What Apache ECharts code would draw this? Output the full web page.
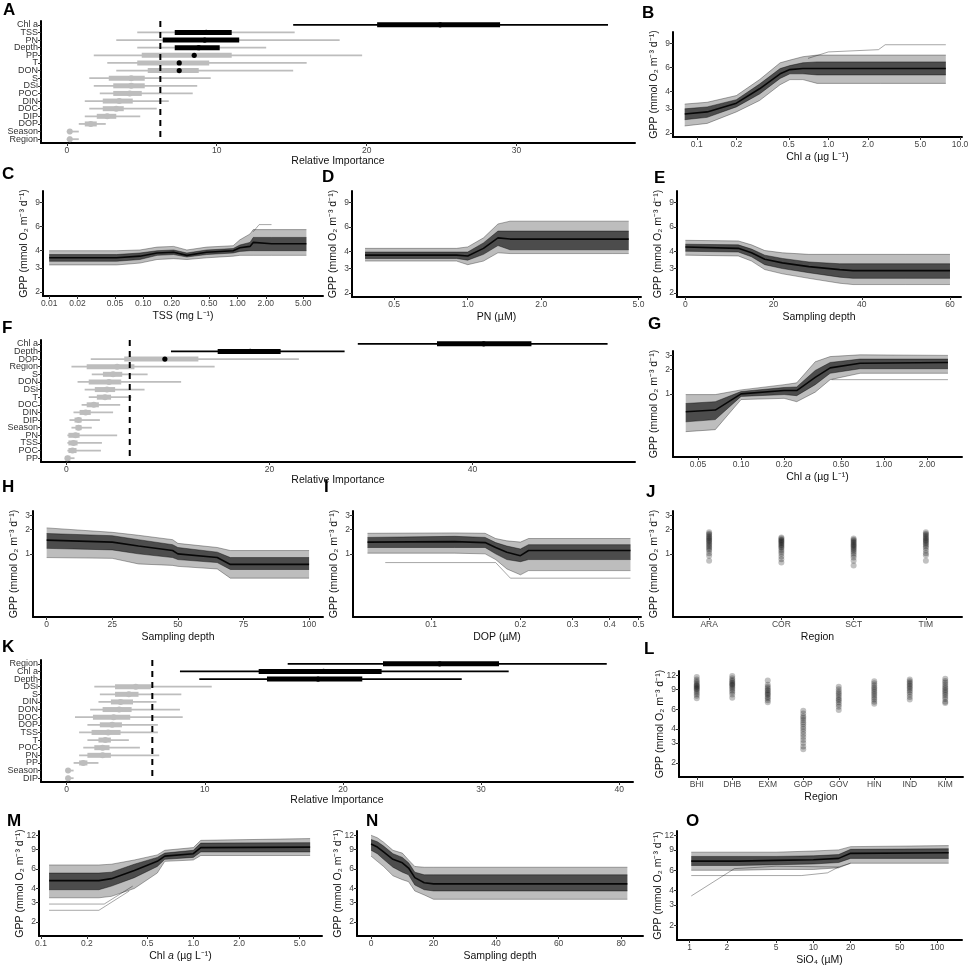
<!DOCTYPE html>
<html>
<head>
<meta charset="utf-8">
<script src="https://cdn.jsdelivr.net/npm/echarts@6/dist/echarts.min.js"></script>
<style>
html,body{margin:0;padding:0;background:#fff}
#main{width:970px;height:970px}
</style>
</head>
<body>
<div id="main"></div>
<script>
// ---- relative importance panels (A, F, K) ----
var aVars = ['Chl a','TSS','PN','Depth','PP','T','DON','S','DSi','POC','DIN','DOC','DIP','DOP','Season','Region'];
var aLo  = [15.1,4.7,3.3,4.7,1.8,2.7,3.3,1.5,1.8,2.2,1.2,1.5,1.2,0.8,0.0,0.0];
var aQ1  = [20.7,7.2,6.4,7.2,5.0,4.7,5.4,2.8,3.1,3.1,2.4,2.4,2.0,1.2,0.1,0.1];
var aMed = [24.9,9.3,9.2,8.8,8.5,7.5,7.5,4.3,4.3,4.2,3.5,3.3,2.7,1.6,0.2,0.2];
var aQ3  = [28.9,11.0,11.5,10.2,11.0,9.5,8.8,5.2,5.2,5.0,4.4,3.8,3.3,2.0,0.3,0.3];
var aHi  = [36.1,15.2,18.2,13.3,19.7,16.0,15.1,9.6,8.7,8.4,6.8,6.0,4.9,2.6,0.8,0.8];
var aCut = 6.24;

var fVars = ['Chl a','Depth','DOP','Region','S','DON','DSi','T','DOC','DIN','DIP','Season','PN','TSS','POC','PP'];
var fLo  = [28.7,10.3,2.4,0.5,2.5,1.1,1.8,2.2,1.5,0.7,0.3,0.5,0.1,0.1,0.1,0.0];
var fQ1  = [36.5,14.9,5.7,2.0,3.6,2.2,2.8,3.0,2.0,1.3,0.8,0.9,0.2,0.2,0.2,0.05];
var fMed = [41.1,18.1,9.7,5.0,4.6,4.2,4.0,3.8,2.7,1.9,1.2,1.2,0.9,0.7,0.6,0.1];
var fQ3  = [45.8,21.1,13.0,6.7,5.5,5.4,4.8,4.4,3.2,2.4,1.5,1.5,1.3,1.1,1.0,0.4];
var fHi  = [53.3,27.4,22.9,14.6,8.0,11.3,7.7,6.4,5.3,4.6,3.3,2.5,5.0,3.5,3.4,0.8];
var fCut = 6.24;

var kVars = ['Region','Chl a','Depth','DSi','S','DIN','DON','DOC','DOP','TSS','T','POC','PN','PP','Season','DIP'];
var kLo  = [16.0,8.2,9.6,2.0,2.4,2.3,1.7,0.6,1.5,0.9,1.5,1.2,0.9,0.5,0.0,0.0];
var kQ1  = [22.9,13.9,14.5,3.5,3.5,3.2,2.6,1.9,2.4,1.8,2.3,2.0,1.5,0.9,0.05,0.05];
var kMed = [27.0,18.6,18.2,5.0,4.5,3.9,3.8,3.4,3.3,3.0,2.8,2.6,2.6,1.2,0.1,0.1];
var kQ3  = [31.3,22.8,21.4,6.1,5.2,4.8,4.7,4.6,4.0,3.9,3.2,3.1,3.2,1.5,0.2,0.2];
var kHi  = [39.1,32.0,28.6,10.5,8.3,6.5,8.2,8.4,6.6,6.6,4.5,5.3,6.7,2.3,0.5,0.5];
var kCut = 6.2;

// ---- partial dependence envelopes (x, outer low, inner low, middle, inner high, outer high) ----
var bX   = [0.081,0.12,0.2,0.3,0.43,0.51,0.64,0.82,2.5,7.8];
var bLo  = [2.25,2.35,2.85,3.45,4.5,4.9,4.9,4.6,4.6,4.6];
var bQ1  = [2.5,2.6,3.1,3.85,5.0,5.4,5.4,5.3,5.3,5.3];
var bMid = [2.75,2.85,3.3,4.2,5.4,5.8,5.9,5.9,5.9,5.9];
var bQ3  = [3.0,3.1,3.5,4.55,5.9,6.2,6.5,6.6,6.6,6.6];
var bHi  = [3.25,3.35,3.75,4.9,6.5,6.8,7.2,7.4,7.4,7.4];
var bTop = [[0.7,7.0],[1.0,7.8],[2.4,8.1],[2.7,8.8],[7.8,8.8]];

var cX   = [0.01,0.052,0.092,0.14,0.21,0.29,0.47,0.9,1.06,1.36,1.47,2.3,5.4];
var cLo  = [3.15,3.15,3.25,3.45,3.5,3.45,3.55,3.65,3.7,3.7,3.7,3.7,3.7];
var cQ1  = [3.35,3.35,3.45,3.7,3.75,3.6,3.75,3.85,3.95,4.0,4.0,4.0,4.0];
var cMid = [3.55,3.55,3.65,3.85,3.9,3.7,3.9,4.0,4.2,4.3,4.6,4.5,4.5];
var cQ3  = [3.75,3.75,3.85,4.0,4.05,3.85,4.05,4.15,4.4,4.6,5.0,5.0,5.0];
var cHi  = [4.0,4.0,4.05,4.25,4.3,4.05,4.25,4.35,4.8,5.3,5.7,5.7,5.7];
var cTop = [[1.47,5.5],[1.7,6.2],[2.3,6.2]];

var dX   = [0.38,0.9,1.0,1.16,1.33,1.49,3.9,4.56];
var dLo  = [3.4,3.4,3.2,3.4,3.9,3.85,3.85,3.85];
var dQ1  = [3.55,3.55,3.45,3.8,4.4,4.1,4.1,4.1];
var dMid = [3.75,3.75,3.7,4.2,5.0,4.9,4.9,4.9];
var dQ3  = [3.95,3.95,3.95,4.6,5.6,5.6,5.6,5.6];
var dHi  = [4.2,4.2,4.3,5.0,6.3,6.6,6.6,6.6];

var eX   = [0,12,15,18,22,28,35,38,50,60];
var eLo  = [3.75,3.7,3.4,2.95,2.75,2.55,2.35,2.3,2.3,2.3];
var eQ1  = [4.0,3.95,3.65,3.2,3.0,2.8,2.6,2.55,2.55,2.55];
var eMid = [4.3,4.2,3.9,3.5,3.3,3.1,2.95,2.9,2.9,2.9];
var eQ3  = [4.5,4.45,4.15,3.75,3.55,3.35,3.25,3.25,3.25,3.25];
var eHi  = [4.8,4.75,4.45,4.05,3.9,3.8,3.8,3.8,3.8,3.8];

var gX   = [0.041,0.066,0.1,0.2,0.245,0.33,0.42,0.68,2.8];
var gLo  = [0.34,0.36,0.85,0.88,0.8,1.05,1.5,1.8,1.8];
var gQ1  = [0.45,0.48,0.93,0.98,0.95,1.3,1.8,2.05,2.05];
var gMid = [0.6,0.63,1.0,1.1,1.1,1.6,2.1,2.4,2.45];
var gQ3  = [0.76,0.8,1.07,1.2,1.22,1.95,2.45,2.7,2.7];
var gHi  = [0.98,0.98,1.12,1.3,1.37,2.5,2.9,3.05,3.0];
var gLow = [[0.43,1.5],[2.8,1.5]];

var hX   = [0,25,35,48,50,65,70,100];
var hLo  = [0.9,0.88,0.75,0.72,0.7,0.65,0.5,0.5];
var hQ1  = [1.17,1.12,1.0,0.9,0.85,0.78,0.64,0.64];
var hMid = [1.48,1.4,1.25,1.1,1.0,0.9,0.74,0.74];
var hQ3  = [1.79,1.68,1.5,1.3,1.2,1.05,0.9,0.9];
var hHi  = [2.1,1.85,1.7,1.5,1.35,1.2,1.1,1.1];

var iX   = [0.061,0.12,0.152,0.165,0.18,0.2,0.213,0.47];
var iLo  = [1.02,1.02,1.0,0.85,0.65,0.55,0.62,0.62];
var iQ1  = [1.2,1.2,1.2,1.0,0.85,0.8,0.85,0.85];
var iMid = [1.4,1.42,1.38,1.2,1.05,0.95,1.1,1.1];
var iQ3  = [1.6,1.65,1.6,1.38,1.25,1.15,1.3,1.3];
var iHi  = [1.8,1.82,1.8,1.55,1.45,1.4,1.55,1.55];
var iLow = [[0.07,0.78],[0.165,0.78],[0.185,0.5],[0.47,0.5]];

var mX   = [0.113,0.24,0.29,0.41,0.58,0.65,1.0,1.12,5.85];
var mLo  = [3.3,3.3,3.4,4.0,5.5,7.0,7.2,7.9,7.9];
var mQ1  = [3.9,3.9,4.2,5.0,6.3,7.3,7.6,8.5,8.5];
var mMid = [4.7,4.7,4.9,5.8,7.0,7.8,8.2,9.3,9.4];
var mQ3  = [5.5,5.5,5.6,6.6,7.6,8.3,8.8,10.2,10.3];
var mHi  = [6.5,6.5,6.6,7.2,8.0,8.8,9.3,10.8,11.2];
var mLowA = [[0.113,2.9],[0.26,2.9],[0.4,4.2]];
var mLowB = [[0.113,2.55],[0.24,2.55],[0.38,3.8]];

var nX   = [0,2,4,7,10,12,14,17,20,62,82];
var nLo  = [7.8,7.0,6.3,5.2,4.8,4.6,3.8,3.5,3.2,3.2,3.2];
var nQ1  = [8.8,8.2,7.3,6.2,5.6,5.3,4.3,3.9,3.8,3.8,3.8];
var nMid = [10.0,9.4,8.5,7.3,6.8,6.1,5.0,4.5,4.4,4.4,4.4];
var nQ3  = [11.0,10.5,9.6,8.2,7.6,6.8,5.6,5.3,5.3,5.3,5.3];
var nHi  = [12.0,11.4,10.4,8.8,8.3,7.2,6.3,6.2,6.2,6.2,6.2];

var oX   = [1.03,2.5,5,10,16,20,124];
var oLo  = [6.0,6.0,6.1,6.1,6.3,6.9,6.9];
var oQ1  = [6.6,6.6,6.7,6.8,7.0,7.6,7.6];
var oMid = [7.2,7.2,7.3,7.4,7.6,8.4,8.5];
var oQ3  = [7.9,7.9,7.9,8.0,8.2,9.1,9.2];
var oHi  = [8.6,8.6,8.6,8.8,9.0,9.6,9.8];
var oLowA = [[1.03,3.6],[2.3,6.2],[5,6.5],[16,6.4]];
var oLowB = [[1.03,5.4],[8,5.4],[13,5.7],[16,6.4],[20,6.9]];

// ---- region strips (J, L) ----
var jCats = ['ARA','COR','SCT','TIM'];
var jARA = [1.85,1.78,1.72,1.65,1.6,1.55,1.5,1.45,1.4,1.35,1.3,1.25,1.2,1.15,1.1,1.02,0.95,0.82];
var jCOR = [1.6,1.55,1.5,1.46,1.42,1.38,1.34,1.3,1.26,1.22,1.18,1.12,1.06,1.0,0.93,0.86,0.78];
var jSCT = [1.55,1.5,1.45,1.4,1.36,1.32,1.28,1.24,1.2,1.16,1.12,1.07,1.02,0.96,0.9,0.82,0.72];
var jTIM = [1.85,1.78,1.72,1.66,1.6,1.55,1.5,1.45,1.4,1.35,1.3,1.24,1.18,1.1,1.02,0.96,0.82];

var lCats = ['BHI','DHB','EXM','GOP','GOV','HIN','IND','KIM'];
var lBHI = [11.6,11.0,10.6,10.3,10.0,9.8,9.6,9.4,9.2,9.0,8.8,8.5,8.2,7.9,7.5];
var lDHB = [11.8,11.3,10.9,10.6,10.3,10.1,9.9,9.7,9.4,9.1,8.8,8.5,8.1,7.6];
var lEXM = [10.8,9.9,9.5,9.2,8.9,8.7,8.4,8.2,8.0,7.7,7.5,7.2,6.9];
var lGOP = [5.8,5.5,5.2,5.0,4.8,4.6,4.4,4.2,4.0,3.8,3.6,3.4,3.2,3.0,2.8,2.65];
var lGOV = [9.5,9.0,8.6,8.3,8.0,7.7,7.4,7.2,6.9,6.6,6.3,5.9];
var lHIN = [10.6,10.2,9.8,9.4,9.1,8.8,8.5,8.2,7.9,7.6,7.3,7.0,6.7];
var lIND = [11.0,10.6,10.3,10.0,9.7,9.4,9.1,8.8,8.5,8.1,7.7,7.3];
var lKIM = [11.2,10.7,10.3,9.9,9.5,9.2,8.9,8.6,8.3,8.0,7.7,7.4,7.0,6.8];

// ---- tick values ----
var gppTicksA = [2,3,4,6,9];
var gppTicksB = [1,2,3];
var gppTicksC = [2,3,4,6,9,12];
var bTicks = [0.1,0.2,0.5,1,2,5,10];
var bLabels = ['0.1','0.2','0.5','1.0','2.0','5.0','10.0'];
var cTicks = [0.01,0.02,0.05,0.1,0.2,0.5,1,2,5];
var cLabels = ['0.01','0.02','0.05','0.10','0.20','0.50','1.00','2.00','5.00'];
var dTicks = [0.5,1,2,5];
var dLabels = ['0.5','1.0','2.0','5.0'];
var eTicks = [0,20,40,60];
var gTicks = [0.05,0.1,0.2,0.5,1,2];
var gLabels = ['0.05','0.10','0.20','0.50','1.00','2.00'];
var hTicks = [0,25,50,75,100];
var iTicks = [0.1,0.2,0.3,0.4,0.5];
var mTicks = [0.1,0.2,0.5,1,2,5];
var mLabels = ['0.1','0.2','0.5','1.0','2.0','5.0'];
var nTicks = [0,20,40,60,80];
var oTicks = [1,2,5,10,20,50,100];
var aTicks = [0,10,20,30];
var fTicks = [0,20,40];
var kTicks = [0,10,20,30,40];

// ---- drawing ----
var FONT = '"Liberation Sans", Arial, sans-serif';
var GPP = 'GPP (mmol O₂ m⁻³ d⁻¹)';
var CHL = '{n|Chl }{i|a}{n| (µg L⁻¹)}';
var RICH = {
  n: {fontFamily: FONT, fontSize: 10.5, color: '#111'},
  i: {fontFamily: FONT, fontSize: 10.5, fontStyle: 'italic', color: '#111'}
};
function lg(v) { return Math.log10(v); }
function idt(v) { return v; }

var grids = [], xAxes = [], yAxes = [], series = [], graphics = [];

function addGrid(box) {
  grids.push({left: box[0], top: box[1], width: box[2], height: box[3],
    containLabel: false, outerBoundsMode: 'none'});
  return grids.length - 1;
}

function tickAxis(g, dir, tf, range, ticks, labels, name, gap) {
  var tv = ticks.map(tf);
  var lab = labels || ticks.map(String);
  return {
    type: 'value', gridIndex: g, min: tf(range[0]), max: tf(range[1]),
    name: name, nameLocation: 'middle', nameGap: gap, nameRotate: dir === 'y' ? 90 : 0,
    nameMoveOverlap: false,
    nameTextStyle: {fontFamily: FONT, fontSize: 10.5, color: '#111', rich: RICH},
    axisLine: {show: true, onZero: false, lineStyle: {color: '#000', width: 2}},
    axisTick: {show: true, customValues: tv, length: 3, lineStyle: {color: '#333', width: 1}},
    axisLabel: {customValues: tv, fontFamily: FONT, fontSize: 8.5, color: '#444', margin: 3,
      formatter: function (v) {
        for (var i = 0; i < tv.length; i++) { if (Math.abs(tv[i] - v) < 1e-6) return lab[i]; }
        return '';
      }},
    splitLine: {show: false}
  };
}

function lineS(g, pts, color, width) {
  return {type: 'line', xAxisIndex: g, yAxisIndex: g, data: pts, symbol: 'none',
    silent: true, z: 3, lineStyle: {color: color, width: width}};
}

function band(g, tf, xs, lower, upper, fill) {
  return {type: 'custom', xAxisIndex: g, yAxisIndex: g, silent: true, z: 2,
    data: [[tf(xs[0]), lg(lower[0])]], encode: {x: 0, y: 1},
    renderItem: function (params, api) {
      var pts = [], i;
      for (i = 0; i < xs.length; i++) pts.push(api.coord([tf(xs[i]), lg(lower[i])]));
      for (i = xs.length - 1; i >= 0; i--) pts.push(api.coord([tf(xs[i]), lg(upper[i])]));
      return {type: 'polygon', shape: {points: pts}, style: {fill: fill}};
    }};
}

function curvePanel(c) {
  var g = addGrid(c.box);
  xAxes.push(tickAxis(g, 'x', c.tf, c.xRange, c.ticks, c.labels, c.name, 15));
  yAxes.push(tickAxis(g, 'y', lg, c.yRange, c.yTicks, null, GPP, 13));
  series.push(band(g, c.tf, c.x, c.lo, c.hi, 'rgba(0,0,0,0.26)'));
  series.push(band(g, c.tf, c.x, c.q1, c.q3, 'rgba(0,0,0,0.6)'));
  function pts(arr) { return c.x.map(function (x, i) { return [c.tf(x), lg(arr[i])]; }); }
  series.push(lineS(g, pts(c.lo), 'rgba(0,0,0,0.4)', 0.8));
  series.push(lineS(g, pts(c.hi), 'rgba(0,0,0,0.4)', 0.8));
  series.push(lineS(g, pts(c.q1), 'rgba(0,0,0,0.5)', 0.8));
  series.push(lineS(g, pts(c.q3), 'rgba(0,0,0,0.5)', 0.8));
  series.push(lineS(g, pts(c.mid), 'rgba(0,0,0,0.9)', 1.6));
  (c.extra || []).forEach(function (ln) {
    series.push(lineS(g, ln.map(function (p) { return [c.tf(p[0]), lg(p[1])]; }), 'rgba(0,0,0,0.35)', 1));
  });
}

function impPanel(box, vars, lo, q1, med, q3, hi, cut, range, ticks) {
  var g = addGrid(box);
  xAxes.push(tickAxis(g, 'x', idt, range, ticks, null, 'Relative Importance', 13));
  yAxes.push({type: 'category', gridIndex: g, data: vars, inverse: true,
    axisLine: {show: true, onZero: false, lineStyle: {color: '#000', width: 2}},
    axisTick: {show: true, alignWithLabel: true, length: 3, lineStyle: {color: '#333'}},
    axisLabel: {interval: 0, fontFamily: FONT, fontSize: 9, color: '#333', margin: 3},
    splitLine: {show: false}});
  var data = vars.map(function (v, i) { return [lo[i], q1[i], med[i], q3[i], hi[i], i]; });
  function col(v) { return v > cut ? '#000' : '#bdbdbd'; }
  series.push({type: 'custom', xAxisIndex: g, yAxisIndex: g, data: data, z: 2,
    encode: {x: [0, 1, 2, 3, 4], y: 5},
    renderItem: function (params, api) {
      var r = api.value(5);
      var pLo = api.coord([api.value(0), r]), pQ1 = api.coord([api.value(1), r]);
      var pMd = api.coord([api.value(2), r]), pQ3 = api.coord([api.value(3), r]);
      var pHi = api.coord([api.value(4), r]);
      var dotC = col(api.value(2));
      return {type: 'group', children: [
        {type: 'line', shape: {x1: pLo[0], y1: pLo[1], x2: pHi[0], y2: pHi[1]},
          style: {stroke: col(api.value(0)), lineWidth: 1.8}},
        {type: 'line', shape: {x1: pQ1[0], y1: pQ1[1], x2: pQ3[0], y2: pQ3[1]},
          style: {stroke: col(api.value(1)), lineWidth: 5}},
        {type: 'circle', shape: {cx: pMd[0], cy: pMd[1], r: dotC === '#000' ? 2.6 : 3},
          style: {fill: dotC}}
      ]};
    }});
  series.push({type: 'custom', xAxisIndex: g, yAxisIndex: g, data: [[cut, 0]], z: 5,
    encode: {x: 0, y: 1}, silent: true,
    renderItem: function (params, api) {
      var cs = params.coordSys;
      var x = api.coord([cut, 0])[0];
      return {type: 'line', shape: {x1: x, y1: cs.y, x2: x, y2: cs.y + cs.height},
        style: {stroke: '#000', lineWidth: 2, lineDash: [6, 5]}};
    }});
}

function stripPanel(box, cats, lists, yRange, yTicks) {
  var g = addGrid(box);
  xAxes.push({type: 'category', gridIndex: g, data: cats, name: 'Region', nameLocation: 'middle',
    nameGap: 15, nameMoveOverlap: false,
    nameTextStyle: {fontFamily: FONT, fontSize: 10.5, color: '#111'},
    axisLine: {show: true, onZero: false, lineStyle: {color: '#000', width: 2}},
    axisTick: {show: true, alignWithLabel: true, length: 3, lineStyle: {color: '#333'}},
    axisLabel: {interval: 0, fontFamily: FONT, fontSize: 8.5, color: '#444', margin: 3},
    splitLine: {show: false}});
  yAxes.push(tickAxis(g, 'y', lg, yRange, yTicks, null, GPP, 13));
  var pts = [];
  lists.forEach(function (vals, ci) { vals.forEach(function (v) { pts.push([ci, lg(v)]); }); });
  series.push({type: 'scatter', xAxisIndex: g, yAxisIndex: g, data: pts, symbolSize: 6,
    silent: true, itemStyle: {color: 'rgba(0,0,0,0.3)'}});
}

var yHi = [1.87, 10.9], yLo = [0.165, 3.4], yMd = [1.5, 13.1];

impPanel([41, 21, 594, 122], aVars, aLo, aQ1, aMed, aQ3, aHi, aCut, [-1.72, 37.9], aTicks);
curvePanel({box: [673, 32, 289, 105], tf: lg, xRange: [0.066, 10.35], ticks: bTicks, labels: bLabels,
  name: CHL, yRange: yHi, yTicks: gppTicksA, x: bX, lo: bLo, q1: bQ1, mid: bMid, q3: bQ3, hi: bHi, extra: [bTop]});
curvePanel({box: [43, 191, 280, 105], tf: lg, xRange: [0.0086, 8.1], ticks: cTicks, labels: cLabels,
  name: 'TSS (mg L⁻¹)', yRange: yHi, yTicks: gppTicksA, x: cX, lo: cLo, q1: cQ1, mid: cMid, q3: cQ3, hi: cHi, extra: [cTop]});
curvePanel({box: [352, 191, 289, 106], tf: lg, xRange: [0.336, 5.12], ticks: dTicks, labels: dLabels,
  name: 'PN (µM)', yRange: yHi, yTicks: gppTicksA, x: dX, lo: dLo, q1: dQ1, mid: dMid, q3: dQ3, hi: dHi});
curvePanel({box: [677, 191, 284, 106], tf: idt, xRange: [-1.9, 62.5], ticks: eTicks, labels: null,
  name: 'Sampling depth', yRange: yHi, yTicks: gppTicksA, x: eX, lo: eLo, q1: eQ1, mid: eMid, q3: eQ3, hi: eHi});
impPanel([41, 340, 594, 122], fVars, fLo, fQ1, fMed, fQ3, fHi, fCut, [-2.5, 56.0], fTicks);
curvePanel({box: [673, 351, 289, 106], tf: lg, xRange: [0.0334, 3.51], ticks: gTicks, labels: gLabels,
  name: CHL, yRange: yLo, yTicks: gppTicksB, x: gX, lo: gLo, q1: gQ1, mid: gMid, q3: gQ3, hi: gHi, extra: [gLow]});
curvePanel({box: [33, 511, 290, 106], tf: idt, xRange: [-5.2, 105.3], ticks: hTicks, labels: null,
  name: 'Sampling depth', yRange: yLo, yTicks: gppTicksB, x: hX, lo: hLo, q1: hQ1, mid: hMid, q3: hQ3, hi: hHi});
curvePanel({box: [353, 511, 288, 106], tf: lg, xRange: [0.0545, 0.51], ticks: iTicks, labels: null,
  name: 'DOP (µM)', yRange: yLo, yTicks: gppTicksB, x: iX, lo: iLo, q1: iQ1, mid: iMid, q3: iQ3, hi: iHi, extra: [iLow]});
stripPanel([673, 511, 289, 106], jCats, [jARA, jCOR, jSCT, jTIM], yLo, gppTicksB);
impPanel([41, 660, 592, 122], kVars, kLo, kQ1, kMed, kQ3, kHi, kCut, [-1.86, 41.0], kTicks);
stripPanel([679, 671, 284, 106], lCats, [lBHI, lDHB, lEXM, lGOP, lGOV, lHIN, lIND, lKIM], yMd, gppTicksC);
curvePanel({box: [39, 831, 283, 105], tf: lg, xRange: [0.097, 7.0], ticks: mTicks, labels: mLabels,
  name: CHL, yRange: yMd, yTicks: gppTicksC, x: mX, lo: mLo, q1: mQ1, mid: mMid, q3: mQ3, hi: mHi, extra: [mLowA, mLowB]});
curvePanel({box: [357, 831, 286, 105], tf: idt, xRange: [-4.5, 87], ticks: nTicks, labels: null,
  name: 'Sampling depth', yRange: yMd, yTicks: gppTicksC, x: nX, lo: nLo, q1: nQ1, mid: nMid, q3: nQ3, hi: nHi});
curvePanel({box: [677, 831, 285, 109], tf: lg, xRange: [0.79, 159], ticks: oTicks, labels: null,
  name: 'SiO₄ (µM)', yRange: yMd, yTicks: gppTicksC, x: oX, lo: oLo, q1: oQ1, mid: oMid, q3: oQ3, hi: oHi, extra: [oLowA, oLowB]});

// panel letters
var letters = [['A',3,2],['B',642,5],['C',2,166],['D',322,169],['E',654,170],['F',2,320],['G',648,316],
  ['H',2,479],['I',324,479],['J',646,484],['K',2,639],['L',644,641],['M',7,813],['N',366,813],['O',686,813]];
letters.forEach(function (l) {
  graphics.push({type: 'text', left: l[1], top: l[2], z: 10,
    style: {text: l[0], fontFamily: FONT, fontSize: 17, fontWeight: 'bold', fill: '#000'}});
});

var chart = echarts.init(document.getElementById('main'));
chart.setOption({
  animation: false,
  backgroundColor: '#fff',
  grid: grids,
  xAxis: xAxes,
  yAxis: yAxes,
  series: series,
  graphic: graphics
});
</script>
</body>
</html>
